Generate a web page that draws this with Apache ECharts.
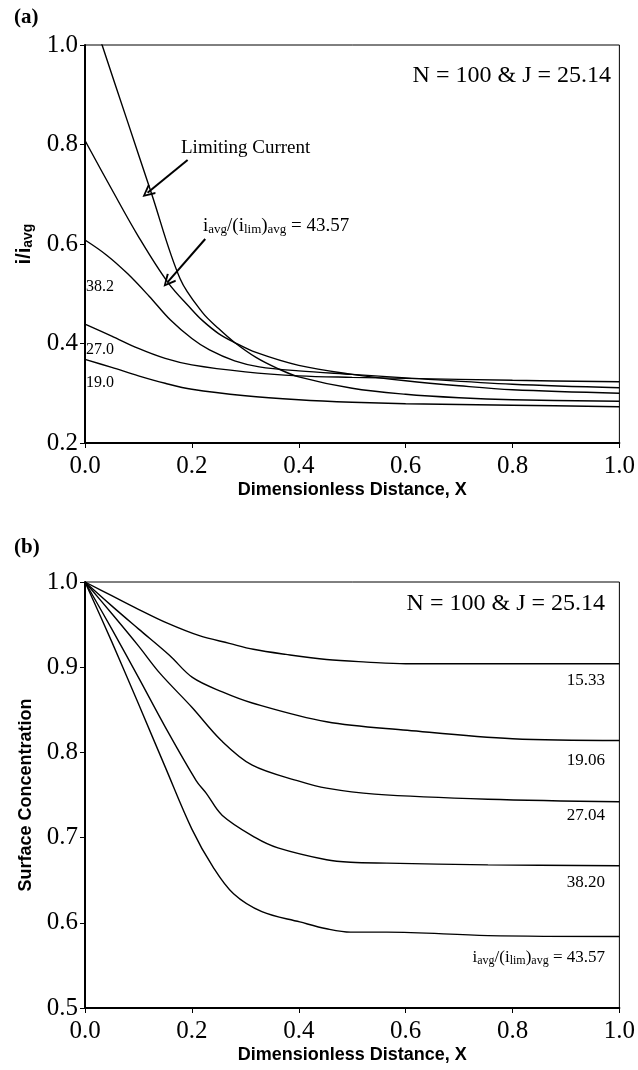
<!DOCTYPE html>
<html>
<head>
<meta charset="utf-8">
<script src="https://cdn.jsdelivr.net/npm/echarts@6/dist/echarts.min.js"></script>
<style>
html, body { margin: 0; padding: 0; background: #fff; }
#main { width: 638px; height: 1070px; }
</style>
</head>
<body>
<div id="main"></div>
<script>
// (a) current distribution i/i_avg along X
var curLimiting = [[0, 1.11], [0.032, 1.0], [0.08, 0.845], [0.124, 0.703], [0.178, 0.53], [0.22, 0.462], [0.25, 0.43], [0.28, 0.402], [0.32, 0.372], [0.36, 0.35], [0.40, 0.333], [0.5, 0.31], [0.6, 0.298], [0.7, 0.291], [0.8, 0.287], [1.0, 0.284]];
var cur4357 = [[0, 0.808], [0.05, 0.71], [0.1, 0.615], [0.155, 0.523], [0.2, 0.468], [0.22, 0.446], [0.25, 0.42], [0.28, 0.402], [0.32, 0.382], [0.4, 0.356], [0.5, 0.338], [0.6, 0.325], [0.7, 0.315], [0.8, 0.307], [1.0, 0.300]];
var cur382 = [[0, 0.608], [0.04, 0.578], [0.08, 0.54], [0.12, 0.495], [0.16, 0.447], [0.2, 0.41], [0.233, 0.387], [0.28, 0.365], [0.326, 0.353], [0.4, 0.345], [0.5, 0.338], [0.6, 0.331], [0.8, 0.318], [1.0, 0.311]];
var cur270 = [[0, 0.439], [0.05, 0.415], [0.1, 0.39], [0.15, 0.37], [0.2, 0.357], [0.3, 0.343], [0.4, 0.335], [0.5, 0.332], [0.6, 0.33], [0.8, 0.326], [1.0, 0.323]];
var cur190 = [[0, 0.368], [0.05, 0.352], [0.1, 0.335], [0.15, 0.32], [0.2, 0.308], [0.3, 0.295], [0.4, 0.287], [0.5, 0.282], [0.6, 0.279], [0.8, 0.276], [1.0, 0.273]];

// (b) surface concentration along X
var conc1533 = [[0, 1.0], [0.05, 0.984], [0.1, 0.968], [0.153, 0.952], [0.214, 0.937], [0.27, 0.928], [0.315, 0.921], [0.376, 0.915], [0.452, 0.909], [0.527, 0.906], [0.6, 0.904], [1.0, 0.904]];
var conc1906 = [[0, 1.0], [0.05, 0.972], [0.1, 0.945], [0.158, 0.914], [0.201, 0.888], [0.257, 0.871], [0.313, 0.858], [0.452, 0.836], [0.603, 0.826], [0.8, 0.816], [1.0, 0.814]];
var conc2704 = [[0, 1.0], [0.05, 0.963], [0.1, 0.925], [0.14, 0.893], [0.2, 0.853], [0.255, 0.814], [0.313, 0.785], [0.402, 0.766], [0.452, 0.758], [0.542, 0.751], [0.754, 0.745], [1.0, 0.742]];
var conc3820 = [[0, 1.0], [0.05, 0.945], [0.1, 0.888], [0.15, 0.83], [0.208, 0.767], [0.227, 0.752], [0.257, 0.726], [0.319, 0.700], [0.361, 0.688], [0.452, 0.674], [0.497, 0.671], [0.565, 0.670], [0.754, 0.668], [1.0, 0.667]];
var conc4357 = [[0, 1.0], [0.05, 0.93], [0.1, 0.857], [0.15, 0.783], [0.2, 0.71], [0.24, 0.665], [0.278, 0.634], [0.331, 0.613], [0.402, 0.601], [0.452, 0.593], [0.497, 0.589], [0.565, 0.589], [0.754, 0.585], [1.0, 0.584]];

// arrows in (a), data coords [from, to]
var arrowLimiting = [[0.192, 0.769], [0.117, 0.703]];
var arrow4357 = [[0.225, 0.610], [0.155, 0.524]];

var serif = 'Liberation Serif';
var sans = 'Liberation Sans';
var chevron = 'path://M5,0 L10,10 L8.7,11 L5,3.2 L1.3,11 L0,10 Z';

function xAx(idx) {
  return {
    type: 'value', gridIndex: idx, min: 0, max: 1, interval: 0.2,
    name: 'Dimensionless Distance, X', nameLocation: 'middle', nameGap: 38,
    nameTextStyle: { fontFamily: sans, fontWeight: 'bold', fontSize: 18, color: '#000' },
    axisLine: { lineStyle: { color: '#000', width: 2 } },
    axisTick: { length: 5, lineStyle: { color: '#000', width: 1 } },
    axisLabel: { fontFamily: serif, fontSize: 25, color: '#000', margin: 11,
      formatter: function (v) { return v.toFixed(1); } },
    splitLine: { show: false }
  };
}
function yAx(idx, min, interval, name, rich) {
  return {
    type: 'value', gridIndex: idx, min: min, max: 1, interval: interval,
    name: name, nameLocation: 'middle', nameGap: 50, nameRotate: 90,
    nameTextStyle: { fontFamily: sans, fontWeight: 'bold', fontSize: 18, color: '#000', rich: rich },
    axisLine: { lineStyle: { color: '#000', width: 2 } },
    axisTick: { length: 5, lineStyle: { color: '#000', width: 1 } },
    axisLabel: { fontFamily: serif, fontSize: 25, color: '#000', margin: 7,
      formatter: function (v) { return v.toFixed(1); } },
    splitLine: { show: false }
  };
}
function curve(data, idx, extra) {
  var s = {
    type: 'line', data: data, xAxisIndex: idx, yAxisIndex: idx,
    showSymbol: false, smooth: 0.35, clip: true,
    lineStyle: { color: '#000', width: 1.4 }, silent: true
  };
  if (extra) s.markLine = extra;
  return s;
}

var chart = echarts.init(document.getElementById('main'));
chart.setOption({
  animation: false,
  backgroundColor: '#fff',
  grid: [
    { left: 85, top: 45, width: 537, height: 398, show: true, borderColor: '#000', borderWidth: 1 },
    { left: 85, top: 582, width: 537, height: 426, show: true, borderColor: '#000', borderWidth: 1 }
  ],
  xAxis: [xAx(0), xAx(1)],
  yAxis: [
    yAx(0, 0.2, 0.2, '{b|i/i}{s|avg}', {
      b: { fontFamily: sans, fontWeight: 'bold', fontSize: 20, lineHeight: 22 },
      s: { fontFamily: sans, fontWeight: 'bold', fontSize: 14, lineHeight: 6, verticalAlign: 'bottom' }
    }),
    yAx(1, 0.5, 0.1, 'Surface Concentration')
  ],
  series: [
    curve(curLimiting, 0, {
      silent: true, animation: false,
      symbol: ['none', chevron], symbolSize: [12, 13],
      label: { show: false },
      lineStyle: { color: '#000', width: 2, type: 'solid' },
      itemStyle: { color: '#000' },
      data: [
        [{ coord: arrowLimiting[0] }, { coord: arrowLimiting[1] }],
        [{ coord: arrow4357[0] }, { coord: arrow4357[1] }]
      ]
    }),
    curve(cur4357, 0),
    curve(cur382, 0),
    curve(cur270, 0),
    curve(cur190, 0),
    curve(conc1533, 1),
    curve(conc1906, 1),
    curve(conc2704, 1),
    curve(conc3820, 1),
    curve(conc4357, 1)
  ],
  graphic: [
    { type: 'text', x: 14, y: 18, style: { text: '(a)', fontFamily: serif, fontWeight: 'bold', fontSize: 21, fill: '#000', verticalAlign: 'middle' } },
    { type: 'text', x: 14, y: 548, style: { text: '(b)', fontFamily: serif, fontWeight: 'bold', fontSize: 21, fill: '#000', verticalAlign: 'middle' } },
    { type: 'text', x: 611, y: 76, style: { text: 'N = 100 & J = 25.14', fontFamily: serif, fontSize: 24, fill: '#000', align: 'right', verticalAlign: 'middle' } },
    { type: 'text', x: 605, y: 604, style: { text: 'N = 100 & J = 25.14', fontFamily: serif, fontSize: 24, fill: '#000', align: 'right', verticalAlign: 'middle' } },
    { type: 'text', x: 181, y: 148, style: { text: 'Limiting Current', fontFamily: serif, fontSize: 19, fill: '#000', verticalAlign: 'middle' } },
    { type: 'text', x: 203, y: 226, style: {
      text: '{m|i}{s|avg}{m|/(i}{s|lim}{m|)}{s|avg}{m| = 43.57}', verticalAlign: 'middle',
      rich: {
        m: { fontFamily: serif, fontSize: 19, fill: '#000', lineHeight: 20 },
        s: { fontFamily: serif, fontSize: 13, fill: '#000', lineHeight: 6, verticalAlign: 'bottom' }
      } } },
    { type: 'text', x: 86, y: 287, style: { text: '38.2', fontFamily: serif, fontSize: 16, fill: '#000', verticalAlign: 'middle' } },
    { type: 'text', x: 86, y: 350, style: { text: '27.0', fontFamily: serif, fontSize: 16, fill: '#000', verticalAlign: 'middle' } },
    { type: 'text', x: 86, y: 383, style: { text: '19.0', fontFamily: serif, fontSize: 16, fill: '#000', verticalAlign: 'middle' } },
    { type: 'text', x: 605, y: 681, style: { text: '15.33', fontFamily: serif, fontSize: 17, fill: '#000', align: 'right', verticalAlign: 'middle' } },
    { type: 'text', x: 605, y: 761, style: { text: '19.06', fontFamily: serif, fontSize: 17, fill: '#000', align: 'right', verticalAlign: 'middle' } },
    { type: 'text', x: 605, y: 816, style: { text: '27.04', fontFamily: serif, fontSize: 17, fill: '#000', align: 'right', verticalAlign: 'middle' } },
    { type: 'text', x: 605, y: 883, style: { text: '38.20', fontFamily: serif, fontSize: 17, fill: '#000', align: 'right', verticalAlign: 'middle' } },
    { type: 'text', x: 605, y: 958, style: {
      text: '{m|i}{s|avg}{m|/(i}{s|lim}{m|)}{s|avg}{m| = 43.57}', align: 'right', verticalAlign: 'middle',
      rich: {
        m: { fontFamily: serif, fontSize: 17, fill: '#000', lineHeight: 18 },
        s: { fontFamily: serif, fontSize: 12, fill: '#000', lineHeight: 6, verticalAlign: 'bottom' }
      } } }
  ]
});
</script>
</body>
</html>
